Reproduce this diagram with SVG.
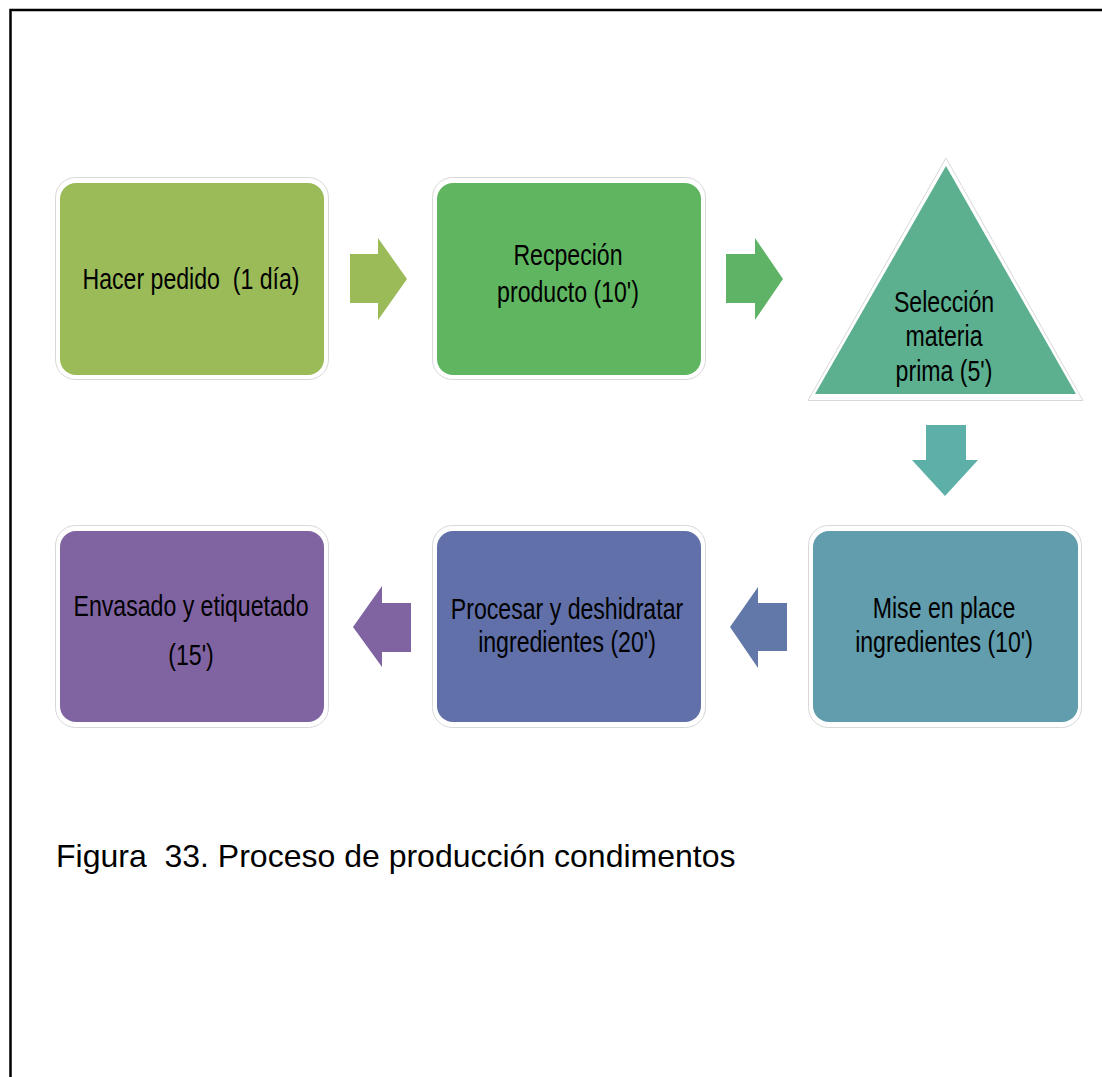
<svg xmlns="http://www.w3.org/2000/svg" width="1102" height="1077" viewBox="0 0 1102 1077">
  <style>
    .halo { fill: #ffffff; stroke: #d8d8d8; stroke-width: 1; }
    /* narrow labels: regular sans squeezed horizontally */
    .lbl { font-family: "Liberation Sans", Arial, sans-serif; font-size: 30px; fill: #000000; text-anchor: middle; white-space: pre; }
    .cap { font-family: "Liberation Sans", Arial, sans-serif; font-size: 32px; fill: #000000; white-space: pre; }
  </style>

  <rect x="0" y="0" width="1102" height="1077" fill="#ffffff"/>
  <!-- page frame (top and left edges) -->
  <path d="M10.5,1077 V10 H1102" fill="none" stroke="#000000" stroke-width="2.5"/>

  <!-- process steps -->
  <g id="node-hacer-pedido">
    <rect class="halo" x="55.5" y="177.5" width="273" height="202" rx="20"/>
    <rect x="60" y="183" width="264" height="192" rx="16" fill="#9BBB59"/>
    <text class="lbl" transform="translate(191,289) scale(0.77,1)">Hacer pedido  (1 día)</text>
  </g>

  <g id="node-recepcion">
    <rect class="halo" x="432.5" y="177.5" width="273" height="202" rx="20"/>
    <rect x="437" y="183" width="264" height="192" rx="16" fill="#60B660"/>
    <text class="lbl" transform="translate(568,265) scale(0.77,1)">Recpeción</text>
    <text class="lbl" transform="translate(568,302) scale(0.77,1)">producto (10')</text>
  </g>

  <g id="node-seleccion">
    <polygon class="halo" points="946,158 808,400.5 1083,400.5"/>
    <polygon points="946,166 815,394 1076,394" fill="#5CB08F"/>
    <text class="lbl" transform="translate(944,312) scale(0.77,1)">Selección</text>
    <text class="lbl" transform="translate(944,346) scale(0.77,1)">materia</text>
    <text class="lbl" transform="translate(944,381) scale(0.77,1)">prima (5')</text>
  </g>

  <g id="node-mise-en-place">
    <rect class="halo" x="808.5" y="525.5" width="273" height="202" rx="20"/>
    <rect x="813" y="531" width="265" height="191" rx="16" fill="#619DAC"/>
    <text class="lbl" transform="translate(944,618) scale(0.77,1)">Mise en place</text>
    <text class="lbl" transform="translate(944,652) scale(0.77,1)">ingredientes (10')</text>
  </g>

  <g id="node-procesar">
    <rect class="halo" x="432.5" y="525.5" width="273" height="202" rx="20"/>
    <rect x="437" y="531" width="264" height="191" rx="16" fill="#6170A9"/>
    <text class="lbl" transform="translate(567,619) scale(0.77,1)">Procesar y deshidratar</text>
    <text class="lbl" transform="translate(567,652) scale(0.77,1)">ingredientes (20')</text>
  </g>

  <g id="node-envasado">
    <rect class="halo" x="55.5" y="525.5" width="273" height="202" rx="20"/>
    <rect x="60" y="531" width="264" height="191" rx="16" fill="#8064A2"/>
    <text class="lbl" transform="translate(191,616) scale(0.77,1)">Envasado y etiquetado</text>
    <text class="lbl" transform="translate(191,665) scale(0.77,1)">(15')</text>
  </g>

  <!-- block arrows between steps -->
  <g id="connectors">
    <polygon points="350,254 378,254 378,238 407,279 378,320 378,303 350,303" fill="#9BBB59"/>
    <polygon points="726,254 755,254 755,238 783,279 755,320 755,303 726,303" fill="#5EB366"/>
    <polygon points="926,425 966,425 966,460 978,460 945,496 912,460 926,460" fill="#5DB0A7"/>
    <polygon points="787,603 758,603 758,587 730,627 758,668 758,651 787,651" fill="#6278A8"/>
    <polygon points="411,603 382,603 382,586 353,627 382,667 382,652 411,652" fill="#8064A2"/>
  </g>

  <text class="cap" x="56" y="867">Figura  33. Proceso de producción condimentos</text>
</svg>
